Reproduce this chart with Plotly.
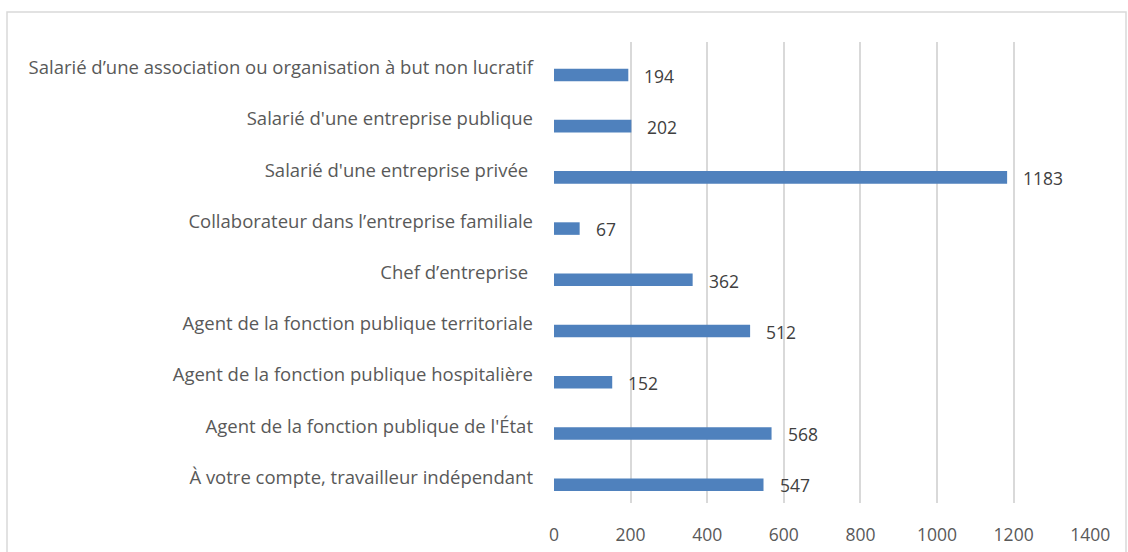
import plotly.graph_objects as go

categories = [
    "À votre compte, travailleur indépendant",
    "Agent de la fonction publique de l'État",
    "Agent de la fonction publique hospitalière",
    "Agent de la fonction publique territoriale",
    "Chef d’entreprise ",
    "Collaborateur dans l’entreprise familiale",
    "Salarié d'une entreprise privée ",
    "Salarié d'une entreprise publique",
    "Salarié d’une association ou organisation à but non lucratif",
]
values = [547, 568, 152, 512, 362, 67, 1183, 202, 194]
x_ticks = [0, 200, 400, 600, 800, 1000, 1200, 1400]

FONT = "Open Sans"
TXT = "#595959"
VAL = "#404040"

W, H = 1128, 552
L, R, T, B = 554, 37, 42, 49
PW, PH = W - L - R, H - T - B

fig = go.Figure()
fig.add_trace(go.Bar(
    y=categories, x=values, orientation="h",
    marker=dict(color="#4f81bd", line=dict(width=0)),
    width=0.245, offset=-0.265, hoverinfo="skip",
))

annotations = []
for c, v in zip(categories, values):
    annotations.append(dict(x=v, y=c, xref="x", yref="y", text=str(v),
                            showarrow=False, xanchor="left", xshift=14, yshift=-8,
                            font=dict(family=FONT, size=17.5, color=VAL)))

fig.update_layout(
    width=W, height=H,
    margin=dict(l=L, r=R, t=T, b=B),
    paper_bgcolor="white", plot_bgcolor="white",
    showlegend=False,
    annotations=annotations,
    xaxis=dict(range=[0, 1402], tickvals=x_ticks, ticktext=[str(t) for t in x_ticks],
               showgrid=True, gridcolor="#d9d9d9", gridwidth=1.5, zeroline=False,
               showline=False, ticks="", ticklabelstandoff=19, automargin=False,
               tickfont=dict(family=FONT, size=17.5, color=TXT), fixedrange=True),
    yaxis=dict(showgrid=False, zeroline=False, showline=False,
               ticks="", ticklabelstandoff=20, automargin=False,
               tickfont=dict(family=FONT, size=18.5, color=TXT),
               categoryorder="array", categoryarray=categories,
               range=[-0.5, 8.5], fixedrange=True),
    shapes=[dict(type="rect", xref="paper", yref="paper",
                 x0=(7 - L) / PW, x1=(1126 - L) / PW,
                 y0=-0.2, y1=(H - B - 12) / PH,
                 line=dict(color="#d9d9d9", width=1.5), fillcolor="rgba(0,0,0,0)",
                 layer="below")],
)

fig.write_html("out.html", config={"displayModeBar": False},
               post_script="document.body.style.margin='0';")
